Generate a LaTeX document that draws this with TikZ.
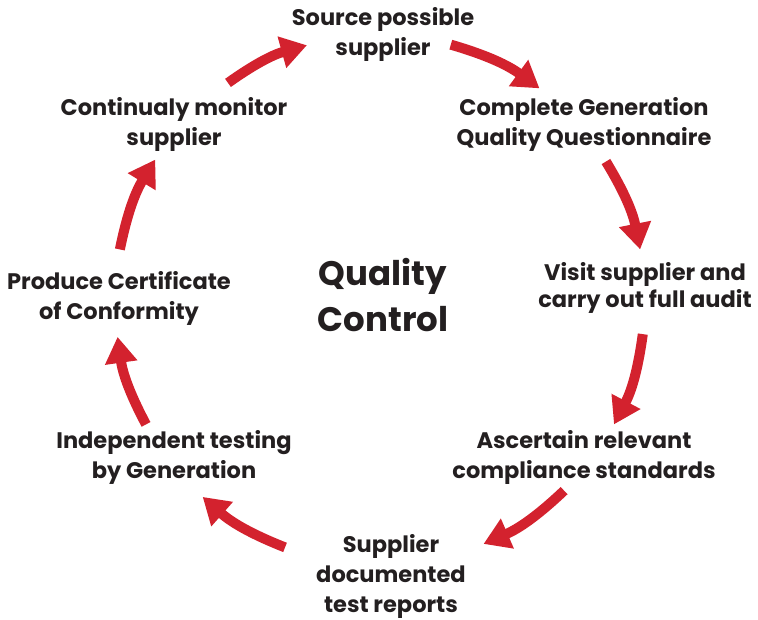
\documentclass[tikz,border=0pt]{standalone}
\usepackage{fontspec}
\setmainfont{Poppins}
\usetikzlibrary{arrows.meta}
\definecolor{qcred}{HTML}{D3222E}
\definecolor{qcink}{HTML}{231F20}

\begin{document}
\begin{tikzpicture}[x=1pt,y=1pt,
  stage/.style={align=center,inner sep=0pt,text=qcink,
                font=\bfseries\fontsize{22.5}{30}\selectfont},
  hub/.style={align=center,inner sep=0pt,text=qcink,
                font=\bfseries\fontsize{34}{46}\selectfont},
  flow/.style={-{Triangle[width=31pt,length=26pt]},line width=10pt,qcred}]
\useasboundingbox (0,0) rectangle (758,619);
\node[hub] (qc) at (383,324) {Quality\\Control};
\node[stage] (source) at (383,585) {Source possible\\supplier};
\node[stage] (quest) at (584,495) {Complete Generation\\Quality Questionnaire};
\node[stage,font=\bfseries\fontsize{22.5}{27}\selectfont] (audit) at (645,331)
  {Visit supplier and\\carry out full audit};
\node[stage] (standards) at (584,162) {Ascertain relevant\\compliance standards};
\node[stage] (reports) at (391,43) {Supplier\\documented\\test reports};
\node[stage] (testing) at (174,162) {Independent testing\\by Generation};
\node[stage] (certif) at (119,321) {Produce Certificate\\of Conformity};
\node[stage] (monitor) at (174,495) {Continualy monitor\\supplier};
% arrow ends on the ring
\begin{scope}[shift={(380,319)}]
\coordinate (m1) at (125:265);  \coordinate (s1) at (106:265);
\coordinate (s2) at (74.5:265); \coordinate (q1) at (53:265);
\coordinate (q2) at (31.5:265); \coordinate (a1) at (11:265);
\coordinate (a2) at (-7.4:265); \coordinate (c1) at (-28:265);
\coordinate (c2) at (-46:265);  \coordinate (r1) at (-67:265);
\coordinate (r2) at (-111:265); \coordinate (t1) at (-132:265);
\coordinate (t2) at (-152:265); \coordinate (p1) at (-172:265);
\coordinate (p2) at (169:265);  \coordinate (o1) at (148:265);
\end{scope}
\draw[flow] (m1) to[bend left=10] (s1);
\draw[flow] (s2) to[bend left=10] (q1);
\draw[flow] (q2) to[bend left=10] (a1);
\draw[flow] (a2) to[bend left=10] (c1);
\draw[flow] (c2) to[bend left=10] (r1);
\draw[flow] (r2) to[bend left=10] (t1);
\draw[flow] (t2) to[bend left=10] (p1);
\draw[flow] (p2) to[bend left=10] (o1);
\end{tikzpicture}
\end{document}
